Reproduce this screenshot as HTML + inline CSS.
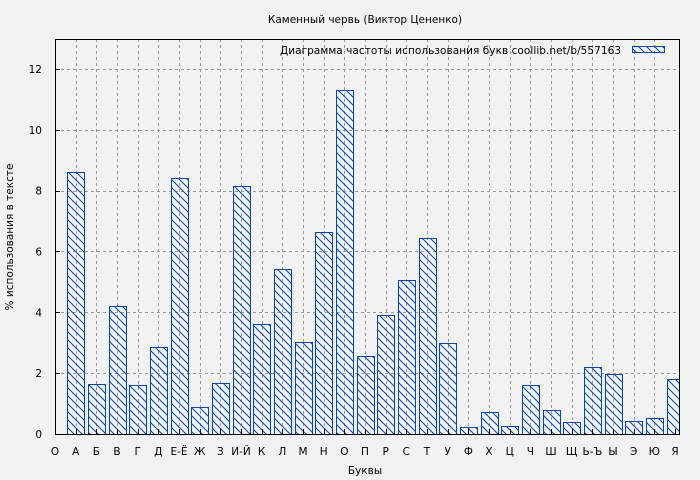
<!DOCTYPE html>
<html><head><meta charset="utf-8"><style>
body{margin:0;background:#f2f2f2;}
svg{display:block;font-family:"DejaVu Sans","Liberation Sans",sans-serif;}
</style></head><body>
<svg width="700" height="480" xmlns="http://www.w3.org/2000/svg">
<defs>
<pattern id="h" patternUnits="userSpaceOnUse" width="8" height="8">
<path d="M-1,-1 L9,9 M-9,-1 L1,9 M7,-1 L17,9" stroke="#0046b4" stroke-width="1"/>
</pattern>
<clipPath id="c"><rect x="55" y="39" width="625" height="396"/></clipPath>
</defs>
<rect width="700" height="480" fill="#f2f2f2"/>
<text x="365" y="23" font-size="10.5" text-anchor="middle" fill="#000">Каменный червь (Виктор Цененко)</text>
<g id="grid" stroke="#999" stroke-dasharray="3,3" stroke-width="1"></g>
<g id="bars" clip-path="url(#c)"></g>
<rect x="55.5" y="39.5" width="624" height="395" fill="none" stroke="#000" stroke-width="1"/>
<g id="ticks" font-size="10.5" fill="#000"></g>
<text x="280" y="54" font-size="10.5" fill="#000" textLength="341">Диаграмма частоты использования букв  coollib.net/b/557163</text>
<rect x="632.5" y="46.5" width="32" height="6" fill="url(#h)" stroke="#0046b4"/>
<text x="365" y="474" font-size="10.5" text-anchor="middle">Буквы</text>
<text transform="translate(13,237) rotate(-90)" font-size="10.5" text-anchor="middle">% использования в тексте</text>
</svg>
<script>
var ns="http://www.w3.org/2000/svg";
function el(p,t,a,txt){var e=document.createElementNS(ns,t);for(var k in a)e.setAttribute(k,a[k]);if(txt!=null)e.textContent=txt;document.getElementById(p).appendChild(e);}
var L=["О","А","Б","В","Г","Д","Е-Ё","Ж","З","И-Й","К","Л","М","Н","О","П","Р","С","Т","У","Ф","Х","Ц","Ч","Ш","Щ","Ь-Ъ","Ы","Э","Ю","Я"];
var V=[null,8.6,1.65,4.2,1.6,2.85,8.4,0.9,1.68,8.15,3.6,5.43,3.02,6.65,11.32,2.57,3.92,5.07,6.45,3.0,0.22,0.72,0.27,1.6,0.8,0.4,2.2,1.98,0.42,0.52,1.8];
var x0=55,dx=20.667,y0=434,sy=30.42;
for(var i=1;i<=6;i++){var y=Math.round(y0-2*i*sy)+.5;el("grid","line",{x1:55,x2:680,y1:y,y2:y});
el("ticks","line",{x1:55,x2:60,y1:y,y2:y,stroke:"#000"});}
for(var i=0;i<=6;i++){var y=y0-2*i*sy;el("ticks","text",{x:42,y:y+4,"text-anchor":"end"},String(2*i));}
for(var i=0;i<L.length;i++){var x=Math.round(x0+i*dx)+.5;
if(i>0&&i<30)el("grid","line",{x1:x,x2:x,y1:39,y2:434});
el("ticks","line",{x1:x,x2:x,y1:429,y2:434,stroke:"#000"});
el("ticks","text",{x:x0+i*dx,y:455,"text-anchor":"middle"},L[i]);
if(V[i]!=null){var h=V[i]*sy;var bx=Math.round(x0+i*dx-8.5)+.5;el("bars","rect",{x:bx,y:(Math.round(y0-h)+.5),width:17,height:Math.round(h),fill:"url(#h)",stroke:"#0046b4"});}}
</script>
</body></html>
